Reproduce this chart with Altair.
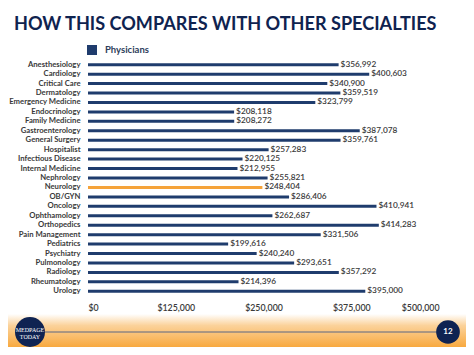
import altair as alt
import pandas as pd

specialties = ["Anesthesiology", "Cardiology", "Critical Care", "Dermatology", "Emergency Medicine",
               "Endocrinology", "Family Medicine", "Gastroenterology", "General Surgery", "Hospitalist",
               "Infectious Disease", "Internal Medicine", "Nephrology", "Neurology", "OB/GYN",
               "Oncology", "Ophthamology", "Orthopedics", "Pain Management", "Pediatrics",
               "Psychiatry", "Pulmonology", "Radiology", "Rheumatology", "Urology"]
salaries = [356992, 400603, 340900, 359519, 323799,
            208118, 208272, 387078, 359761, 257283,
            220125, 212955, 255821, 248404, 286406,
            410941, 262687, 414283, 331506, 199616,
            240240, 293651, 357292, 214396, 395000]
x_ticks = [0, 125000, 250000, 375000, 500000]
title_text = "HOW THIS COMPARES WITH OTHER SPECIALTIES"
highlight = "Neurology"
series_name = "Physicians"

df = pd.DataFrame({"Specialty": specialties, "Salary": salaries, "Series": series_name})
df["Label"] = df["Salary"].map(lambda v: "${:,.0f}".format(v))

NAVY = "#1f3c6d"
ORANGE = "#f5a33a"

y_enc = alt.Y("Specialty:N", sort=specialties, title=None,
              scale=alt.Scale(paddingInner=0, paddingOuter=0),
              axis=alt.Axis(domain=False, ticks=False, labelFont="Lato", labelFontSize=7.7,
                            labelFontWeight=700, labelColor="#3a3a3a", labelPadding=8))
x_enc = alt.X("Salary:Q", title=None,
              scale=alt.Scale(domain=[0, 500000], nice=False),
              axis=alt.Axis(values=x_ticks, format="$,.0f", domain=False, ticks=False, grid=False,
                            labelFont="Lato", labelFontSize=8.8, labelColor="#3a3a3a",
                            labelPadding=7, labelFontWeight=600))

bars = alt.Chart(df).mark_bar(size=3).encode(
    y=y_enc, x=x_enc,
    color=alt.condition(
        alt.datum.Specialty == highlight,
        alt.value(ORANGE),
        alt.Color("Series:N", scale=alt.Scale(domain=[series_name], range=[NAVY]),
                  legend=alt.Legend(title=None, orient="none", legendX=-1, legendY=-15,
                                    symbolType="square", symbolSize=100, symbolFillColor="#2a5494",
                                    symbolStrokeWidth=0, labelFont="Lato", labelFontSize=9.5,
                                    labelFontWeight=700, labelColor="#2e3e5c", labelOffset=8)),
    ),
)

labels = alt.Chart(df).mark_text(align="left", baseline="middle", dx=2, font="Lato",
                                  fontSize=8.3, fontWeight=600, color="#3a3a3a").encode(
    y=alt.Y("Specialty:N", sort=specialties), x="Salary:Q", text="Label:N")

deco = pd.DataFrame({"k": [0]})

band = alt.Chart(deco).mark_rect(
    color=alt.Gradient(gradient="linear",
                       stops=[alt.GradientStop(color="#ffffff", offset=0),
                              alt.GradientStop(color="#fbd29a", offset=0.35),
                              alt.GradientStop(color="#f8a93f", offset=1)],
                       x1=0, x2=0, y1=0, y2=1)
).encode(x=alt.value(-80), x2=alt.value(378), y=alt.value(254), y2=alt.value(287))

title = alt.Chart(deco).mark_text(align="left", baseline="alphabetic",
                                   font="Lato", fontSize=18.1,
                                   fontWeight="bold", color="#0f2350").encode(
    x=alt.value(-74), y=alt.value(-30), text=alt.value(title_text))

line = alt.Chart(deco).mark_rule(color="#5a6782", strokeWidth=1).encode(
    x=alt.value(-58), x2=alt.value(360), y=alt.value(272))

logo = alt.Chart(deco).mark_point(filled=True, shape="circle", size=900, color="#0f2352", opacity=1).encode(
    x=alt.value(-58), y=alt.value(272))
logo_t1 = alt.Chart(deco).mark_text(font="Liberation Serif", fontSize=6, color="white").encode(
    x=alt.value(-58), y=alt.value(270), text=alt.value("MEDPAGE"))
logo_t2 = alt.Chart(deco).mark_text(font="Liberation Serif", fontSize=6, color="white").encode(
    x=alt.value(-58), y=alt.value(276.5), text=alt.value("TODAY"))

page = alt.Chart(deco).mark_point(filled=True, shape="circle", size=560, color="#0f2352", opacity=1).encode(
    x=alt.value(360), y=alt.value(272))
page_t = alt.Chart(deco).mark_text(font="Lato", fontSize=8, fontWeight="bold", color="white",
                                   baseline="middle").encode(
    x=alt.value(360), y=alt.value(272), text=alt.value("12"))

chart = alt.layer(band, bars, labels, title, line, logo, logo_t1, logo_t2, page, page_t).properties(
    width=351, height=236,
    padding={"left": 80, "top": 52, "right": 27, "bottom": 51},
    autosize=alt.AutoSizeParams(type="none"),
    background="white",
).configure_view(stroke=None)

chart.save("out.html", embed_options={"renderer": "svg", "actions": False})
